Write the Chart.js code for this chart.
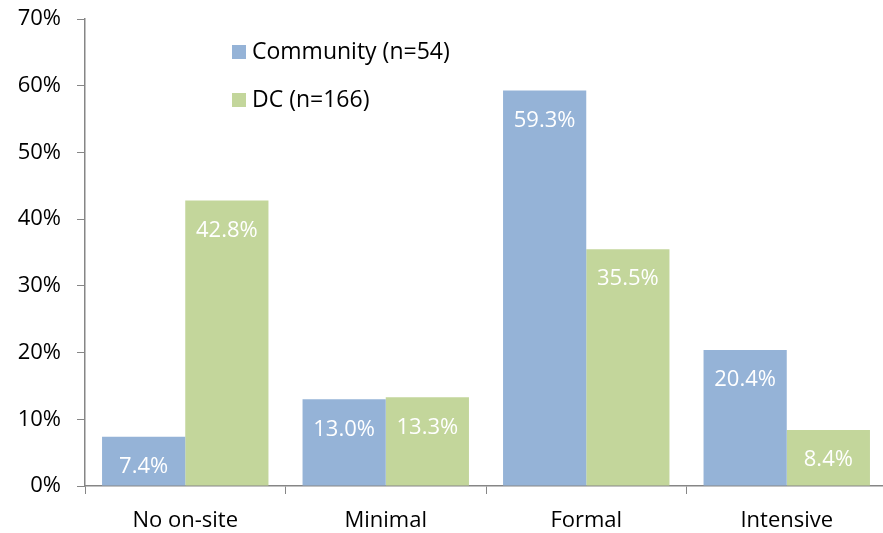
<!DOCTYPE html>
<html>
<head>
<meta charset="utf-8">
<script src="https://cdn.jsdelivr.net/npm/chart.js@4.4.1/dist/chart.umd.min.js"></script>
<style>
  html, body { margin: 0; padding: 0; background: #fff; overflow: hidden; }
  #wrap { position: relative; width: 888px; height: 533px; }
</style>
</head>
<body>
<div id="wrap"><canvas id="c"></canvas></div>
<script>
  // ---- data ----
  const categories = ["No on-site", "Minimal", "Formal", "Intensive"];
  const communityVals = [7.4, 13.0, 59.3, 20.4];
  const dcVals = [42.8, 13.3, 35.5, 8.4];
  const seriesNames = ["Community (n=54)", "DC (n=166)"];
  const yTicks = [0, 10, 20, 30, 40, 50, 60, 70];

  const COL = { blue: "#95B3D7", green: "#C3D69B", axis: "#868686", text: "#000" };
  const FONT = "'Open Sans', Lato, sans-serif";
  const FS = 22;

  /* white value labels just inside the top of each bar */
  const valueLabels = {
    id: "valueLabels",
    afterDatasetsDraw(chart) {
      const ctx = chart.ctx;
      ctx.save();
      ctx.fillStyle = "#fff";
      ctx.font = FS + "px " + FONT;
      ctx.textAlign = "center";
      ctx.textBaseline = "middle";
      chart.data.datasets.forEach((ds, i) => {
        chart.getDatasetMeta(i).data.forEach((bar, j) => {
          ctx.fillText(ds.data[j].toFixed(1) + "%", bar.x, bar.y + 30);
        });
      });
      ctx.restore();
    }
  };

  /* legend drawn inside plot, upper left */
  const innerLegend = {
    id: "innerLegend",
    afterDraw(chart) {
      const ctx = chart.ctx;
      ctx.save();
      ctx.font = "23px " + FONT;
      ctx.textBaseline = "middle";
      chart.data.datasets.forEach((ds, i) => {
        const y = 52 + i * 48;
        ctx.fillStyle = ds.backgroundColor;
        ctx.fillRect(232, y - 7, 14, 14);
        ctx.fillStyle = COL.text;
        ctx.fillText(ds.label, 252, y);
      });
      ctx.restore();
    }
  };

  new Chart(document.getElementById("c"), {
    type: "bar",
    data: {
      labels: categories,
      datasets: [
        { label: seriesNames[0], data: communityVals, backgroundColor: COL.blue },
        { label: seriesNames[1], data: dcVals, backgroundColor: COL.green },
      ],
    },
    options: {
      responsive: true, maintainAspectRatio: false, animation: false,
      layout: { padding: { top: 19, right: 1, left: 0, bottom: 0 } },
      datasets: { bar: { categoryPercentage: 0.83, barPercentage: 1.0 } },
      plugins: { legend: { display: false }, tooltip: { enabled: false } },
      scales: {
        x: {
          grid: { display: true, offset: true, drawOnChartArea: false, drawTicks: true, tickLength: 8, color: COL.axis },
          border: { display: true, color: COL.axis, width: 1.5 },
          ticks: { color: COL.text, font: { family: FONT, size: FS }, padding: 14, maxRotation: 0 },
          afterFit(s) { s.height = 47; s.paddingLeft = 0; s.paddingRight = 0; },
        },
        y: {
          min: 0, max: 70,
          afterBuildTicks(s) { s.ticks = yTicks.map(v => ({ value: v })); },
          grid: { display: true, drawOnChartArea: false, drawTicks: true, tickLength: 8, color: COL.axis },
          border: { display: true, color: COL.axis, width: 1.5 },
          ticks: { color: COL.text, font: { family: FONT, size: FS }, padding: 16, callback: v => v + "%" },
          afterFit(s) { s.width = 85; s.paddingTop = 0; s.paddingBottom = 0; },
        },
      },
    },
    plugins: [valueLabels, innerLegend],
  });
</script>
</body>
</html>
